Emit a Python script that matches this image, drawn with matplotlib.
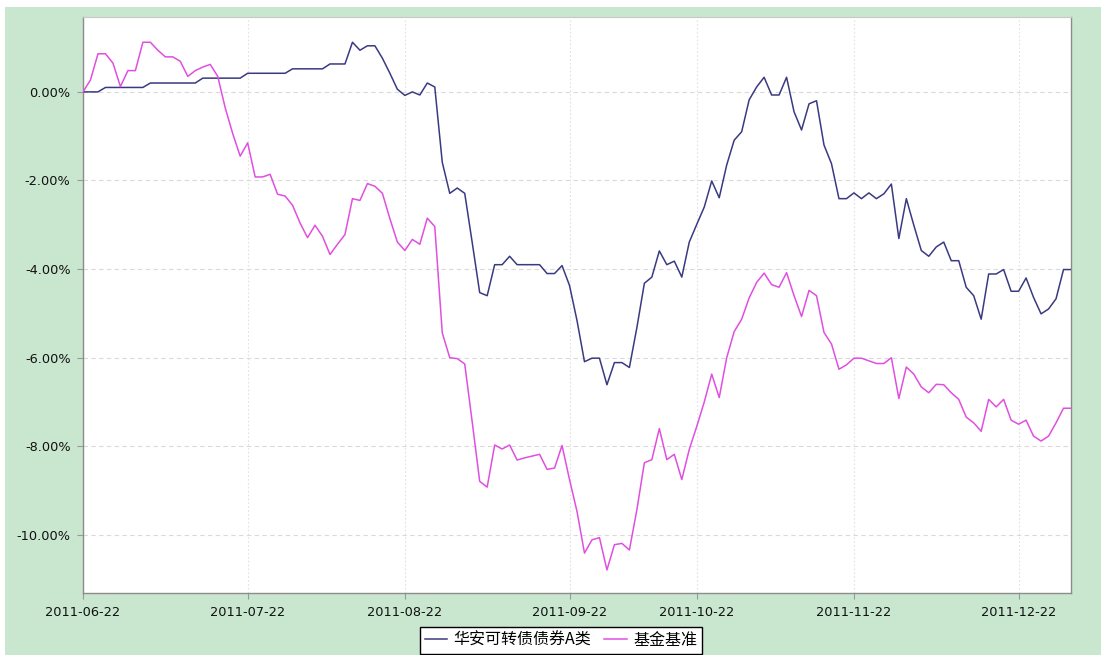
import matplotlib
matplotlib.use("Agg")
import matplotlib.pyplot as plt
from matplotlib.patches import Rectangle
from matplotlib.ticker import FuncFormatter, FixedLocator

# trading-day index series (cumulative return, %)
fund_name = "华安可转债债券A类"
bench_name = "基金基准"

fund = [
    0.00, 0.00, 0.00, 0.10, 0.10, 0.10, 0.10, 0.10, 0.10, 0.20,
    0.20, 0.20, 0.20, 0.20, 0.20, 0.20, 0.31, 0.31, 0.31, 0.31,
    0.31, 0.31, 0.42, 0.42, 0.42, 0.42, 0.42, 0.42, 0.52, 0.52,
    0.52, 0.52, 0.52, 0.63, 0.63, 0.63, 1.12, 0.94, 1.04, 1.04,
    0.76, 0.42, 0.06, -0.08, 0.00, -0.07, 0.20, 0.11, -1.59, -2.29,
    -2.17, -2.29, -3.40, -4.53, -4.60, -3.90, -3.90, -3.71, -3.90, -3.90,
    -3.90, -3.90, -4.10, -4.10, -3.92, -4.37, -5.16, -6.09, -6.01, -6.01,
    -6.61, -6.11, -6.11, -6.22, -5.32, -4.32, -4.18, -3.59, -3.90, -3.82,
    -4.18, -3.39, -2.99, -2.60, -2.01, -2.39, -1.65, -1.09, -0.90, -0.18,
    0.11, 0.33, -0.07, -0.07, 0.33, -0.45, -0.86, -0.27, -0.20, -1.20,
    -1.62, -2.41, -2.41, -2.28, -2.41, -2.28, -2.41, -2.30, -2.08, -3.31,
    -2.41, -3.01, -3.58, -3.71, -3.50, -3.39, -3.81, -3.81, -4.41, -4.60,
    -5.13, -4.11, -4.11, -4.01, -4.50, -4.50, -4.20, -4.64, -5.01, -4.90,
    -4.67, -4.01, -4.01,
]

bench = [
    0.00, 0.27, 0.86, 0.86, 0.65, 0.12, 0.48, 0.48, 1.12, 1.12,
    0.94, 0.79, 0.79, 0.69, 0.35, 0.48, 0.56, 0.62, 0.35, -0.36,
    -0.94, -1.45, -1.15, -1.92, -1.92, -1.86, -2.31, -2.35, -2.56, -2.96,
    -3.29, -3.01, -3.26, -3.67, -3.44, -3.22, -2.41, -2.45, -2.07, -2.13,
    -2.29, -2.86, -3.39, -3.58, -3.33, -3.44, -2.85, -3.04, -5.44, -6.00,
    -6.02, -6.14, -7.45, -8.79, -8.92, -7.97, -8.06, -7.97, -8.31, -8.26,
    -8.22, -8.18, -8.52, -8.49, -7.98, -8.75, -9.47, -10.41, -10.11, -10.06,
    -10.79, -10.22, -10.19, -10.34, -9.43, -8.37, -8.30, -7.60, -8.30, -8.18,
    -8.75, -8.07, -7.55, -7.00, -6.37, -6.90, -6.00, -5.41, -5.13, -4.65,
    -4.30, -4.09, -4.35, -4.41, -4.08, -4.60, -5.07, -4.48, -4.60, -5.43,
    -5.69, -6.26, -6.16, -6.01, -6.01, -6.07, -6.13, -6.13, -6.00, -6.92,
    -6.21, -6.37, -6.66, -6.79, -6.60, -6.61, -6.79, -6.94, -7.34, -7.47,
    -7.66, -6.94, -7.11, -6.94, -7.41, -7.50, -7.41, -7.77, -7.88, -7.77,
    -7.47, -7.14, -7.14,
]

tick_pos = [0, 22, 43, 65, 82, 103, 125]
tick_labels = ["2011-06-22", "2011-07-22", "2011-08-22", "2011-09-22",
               "2011-10-22", "2011-11-22", "2011-12-22"]
y_ticks = [0, -2, -4, -6, -8, -10]

GREEN = "#C9E6CF"
BLUE = "#3A3A82"
PINK = "#E04FE0"

fig = plt.figure(figsize=(11.01, 6.55), dpi=100)
fig.patch.set_facecolor("white")
fig.patches.append(Rectangle((5 / 1101, 0), 1, 1 - 7 / 655, transform=fig.transFigure,
                             facecolor=GREEN, edgecolor="none", zorder=-10))

ax = fig.add_axes([83 / 1101, (655 - 593) / 655, (1071 - 83) / 1101, (593 - 17) / 655])
ax.set_facecolor("white")

x = list(range(len(fund)))
ax.plot(x, fund, color=BLUE, lw=1.1, label=fund_name, zorder=3)
ax.plot(x, bench, color=PINK, lw=1.1, label=bench_name, zorder=3)

ax.set_xlim(0, len(fund) - 1)
ax.set_ylim(-11.31, 1.69)

ax.xaxis.set_major_locator(FixedLocator(tick_pos))
ax.set_xticklabels(tick_labels)
ax.yaxis.set_major_locator(FixedLocator(y_ticks))
ax.yaxis.set_major_formatter(FuncFormatter(lambda v, p: f"{v:.2f}%"))

for lab in ax.get_xticklabels() + ax.get_yticklabels():
    lab.set_fontfamily("DejaVu Sans")
    lab.set_fontsize(9.3)
    lab.set_color("#111111")

ax.tick_params(axis="both", direction="out", length=4, width=0.8, color="#999999", pad=5)

ax.grid(axis="y", color="#DADADA", linestyle=(0, (4, 3)), lw=0.8)
ax.grid(axis="x", color="#E2E2E2", linestyle=(0, (1.5, 2)), lw=0.8)
ax.set_axisbelow(True)

for side in ["left", "bottom", "right"]:
    ax.spines[side].set_color("#8C8C8C")
    ax.spines[side].set_linewidth(1.0)
ax.spines["top"].set_color("#C8C8C8")
ax.spines["top"].set_linewidth(0.8)

leg = fig.legend(loc="upper center", bbox_to_anchor=(561 / 1101, 1 - 627 / 655),
                 borderaxespad=0, ncol=2, frameon=True, fancybox=False, framealpha=1,
                 edgecolor="black", handlelength=1.4, handletextpad=0.4,
                 columnspacing=0.8, borderpad=0.3,
                 prop={"family": ["Noto Sans CJK SC", "DejaVu Sans"], "size": 11.5})
leg.get_frame().set_linewidth(1.0)

fig.savefig("out.png", dpi=100, facecolor=fig.get_facecolor())
